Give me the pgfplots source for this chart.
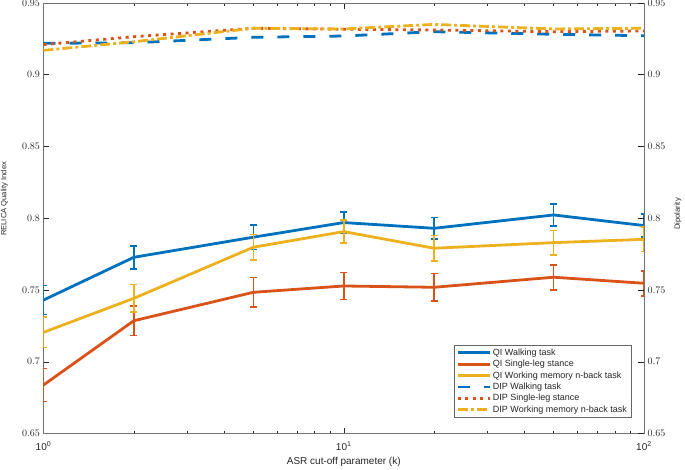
\documentclass[border=0pt]{standalone}
\usepackage{fontspec}
\setmainfont{Liberation Sans}
\usepackage{pgfplots}
\usepackage{pgfplotstable}
\pgfplotsset{compat=1.18}
\definecolor{mblue}{rgb}{0,0.447,0.741}
\definecolor{morange}{rgb}{0.85,0.325,0.098}
\definecolor{myellow}{rgb}{0.929,0.694,0.125}
\definecolor{axgray}{rgb}{0.15,0.15,0.15}

\pgfplotstableread{
x y e
1 0.7430 0.0100
2 0.7728 0.0080
5 0.7868 0.0085
10 0.7970 0.0073
20 0.7930 0.0075
50 0.8023 0.0078
100 0.7949 0.0080
}\qiwalk
\pgfplotstableread{
x y e
1 0.6838 0.0116
2 0.7286 0.0103
5 0.7484 0.0102
10 0.7528 0.0093
20 0.7519 0.0096
50 0.7589 0.0087
100 0.7547 0.0087
}\qisingle
\pgfplotstableread{
x y e
1 0.7205 0.0105
2 0.7442 0.0096
5 0.7798 0.0090
10 0.7907 0.0079
20 0.7791 0.0088
50 0.7830 0.0085
100 0.7853 0.0085
}\qiwm
\pgfplotstableread{
x y
1 0.9219
2 0.9223
5 0.9261
10 0.9270
20 0.9300
50 0.9282
100 0.9272
}\dipwalk
\pgfplotstableread{
x y
1 0.9210
2 0.9265
5 0.9324
10 0.9317
20 0.9312
50 0.9300
100 0.9305
}\dipsingle
\pgfplotstableread{
x y
1 0.9170
2 0.9230
5 0.9324
10 0.9319
20 0.9351
50 0.9319
100 0.9324
}\dipwm

\begin{document}
\begin{tikzpicture}
\begin{axis}[
  scale only axis, width=600.5pt, height=430.5pt,
  xmode=log, xmin=1, xmax=100,
  ymin=0.65, ymax=0.95,
  ytick={0.65,0.7,0.75,0.8,0.85,0.9,0.95},
  tick align=inside,
  major tick length=6pt, minor tick length=3pt,
  every tick/.style={axgray, line width=0.5pt},
  axis line style={black!55, line width=0.6pt},
  tick label style={font=\fontsize{10}{12}\selectfont, text=axgray},
  yticklabel style={/pgf/number format/fixed, /pgf/number format/precision=2},
  xticklabel style={yshift=-5pt},
  name=main,
  xtick={1,10,100},
  xticklabels={10\textsuperscript{0},10\textsuperscript{1},10\textsuperscript{2}},
  minor xtick={2,3,4,5,6,7,8,9,20,30,40,50,60,70,80,90},
  ytick pos=left,
  xlabel={ASR cut-off parameter (k)},
  ylabel={RELICA Quality Index},
  xlabel style={font=\fontsize{10}{12}\selectfont, text=axgray, at={(axis description cs:0.5,-0.066)}, anchor=center},
  ylabel style={font=\fontsize{7.6}{9}\selectfont, text=axgray, at={(axis description cs:-0.065,0.545)}, anchor=center},
  legend style={at={(rel axis cs:1,0)}, anchor=south east, xshift=-13pt, yshift=16.5pt,
    font=\fontsize{9}{10.5}\selectfont, draw=black!60, text=axgray,
    inner xsep=2pt, inner ysep=1pt, row sep=-0.6pt},
  legend cell align=left,
  legend image code/.code={\draw[#1] (0pt,0pt) -- (32pt,0pt);},
]
\addplot[mblue, line width=2.8pt, line join=round, no marks,
  error bars/.cd, y dir=both, y explicit,
  error bar style={line width=1.6pt},
  error mark options={rotate=90, mark size=3.4pt, line width=1.6pt}]
  table[x=x, y=y, y error=e] {\qiwalk};
\addlegendentry{QI Walking task}
\addplot[morange, line width=2.8pt, line join=round, no marks,
  error bars/.cd, y dir=both, y explicit,
  error bar style={line width=1.6pt},
  error mark options={rotate=90, mark size=3.4pt, line width=1.6pt}]
  table[x=x, y=y, y error=e] {\qisingle};
\addlegendentry{QI Single-leg stance}
\addplot[myellow, line width=2.8pt, line join=round, no marks,
  error bars/.cd, y dir=both, y explicit,
  error bar style={line width=1.6pt},
  error mark options={rotate=90, mark size=3.4pt, line width=1.6pt}]
  table[x=x, y=y, y error=e] {\qiwm};
\addlegendentry{QI Working memory n-back task}
\addplot[mblue, line width=2.8pt, dash pattern=on 12pt off 14pt, no marks] table[x=x, y=y] {\dipwalk};
\addlegendentry{DIP Walking task}
\addplot[morange, line width=2.8pt, dash pattern=on 3pt off 4.5pt, no marks] table[x=x, y=y] {\dipsingle};
\addlegendentry{DIP Single-leg stance}
\addplot[myellow, line width=2.8pt, dash pattern=on 10pt off 3pt on 3pt off 3pt, no marks] table[x=x, y=y] {\dipwm};
\addlegendentry{DIP Working memory n-back task}
\end{axis}
\begin{axis}[
  scale only axis, width=600.5pt, height=430.5pt,
  xmode=log, xmin=1, xmax=100,
  ymin=0.65, ymax=0.95,
  ytick={0.65,0.7,0.75,0.8,0.85,0.9,0.95},
  tick align=inside,
  major tick length=6pt,
  every tick/.style={axgray, line width=0.5pt},
  axis line style={black!55, line width=0.6pt},
  tick label style={font=\fontsize{10}{12}\selectfont, text=axgray},
  yticklabel style={/pgf/number format/fixed, /pgf/number format/precision=2},
  axis x line=none,
  axis y line*=right,
  ylabel={Dipolarity},
  ylabel style={font=\fontsize{7.6}{9}\selectfont, text=axgray, at={(axis description cs:1.0566,0.51)}, anchor=center},
]
\end{axis}
\pgfresetboundingbox
\path ([shift={(-43.5pt,-35.5pt)}]main.south west) rectangle ([shift={(41pt,3pt)}]main.north east);
\end{tikzpicture}
\end{document}
